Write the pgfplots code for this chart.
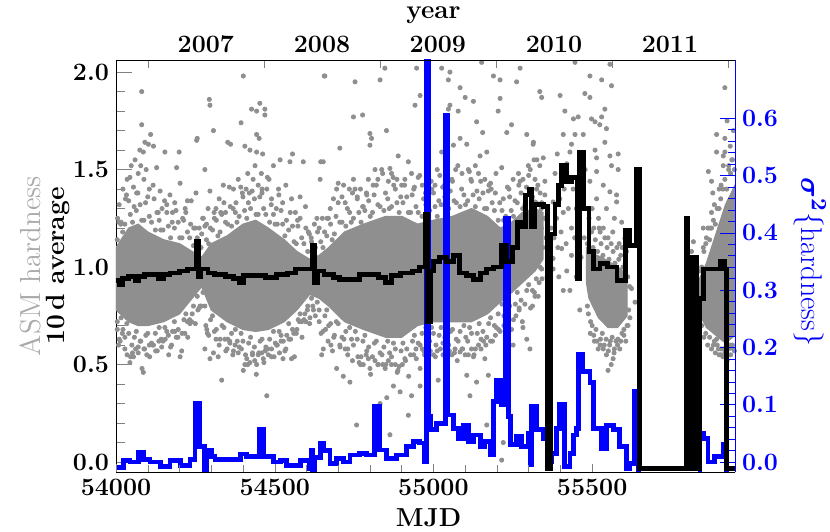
\documentclass[border=0pt]{standalone}
\usepackage{fontspec}
\usepackage{pgfplots}
\pgfplotsset{compat=1.18}
\definecolor{ptgray}{RGB}{143,143,143}
\definecolor{asmgray}{RGB}{170,170,170}
\definecolor{sigblue}{RGB}{0,0,255}

\pgfplotsset{
  hardbase/.style={
    scale only axis, width=309.5pt, height=206pt,
    xmin=54000, xmax=55950,
    tick align=inside,
    scaled x ticks=false, scaled y ticks=false,
    every tick label/.append style={font=\fontsize{12.5}{14}\selectfont\bfseries},
    /pgf/number format/set thousands separator={},
    /pgf/number format/assume math mode=true,
  },
}

\begin{document}
\begin{tikzpicture}
% left axis: ASM hardness points
\begin{axis}[hardbase,
  ymin=-0.051, ymax=2.062,
  axis x line=none, axis y line*=left,
  ytick={0,0.5,1.0,1.5,2.0}, minor y tick num=4,
  major tick length=8pt, minor tick length=4.5pt,
  yticklabel style={/pgf/number format/.cd, fixed, fixed zerofill, precision=1},
  ylabel={{\fontsize{14.5}{15}\selectfont\mdseries\color{asmgray}ASM hardness}\\{\fontsize{13.2}{15}\selectfont\bfseries 10\,d average}},
  every axis y label/.style={at={(rel axis cs:0,0.5)}, anchor=center, xshift=-35.5pt, rotate=90, align=center},
]
\coordinate (bl) at (rel axis cs:0,0);
\coordinate (tr) at (rel axis cs:1,1);
% dense cores
\addplot[fill=ptgray, draw=ptgray, line width=0.6pt] coordinates {
 (54000,1.10) (54040,1.20) (54070,1.22) (54100,1.18) (54150,1.14) (54200,1.12) (54240,1.08) (54270,1.05)
 (54300,1.12) (54350,1.16) (54400,1.22) (54440,1.24) (54480,1.20) (54530,1.14) (54570,1.08) (54610,1.04)
 (54640,1.06) (54670,1.10) (54720,1.18) (54780,1.22) (54850,1.26) (54900,1.26) (54950,1.22) (55000,1.24)
 (55060,1.26) (55120,1.30) (55170,1.26) (55210,1.20) (55240,1.22) (55280,1.28) (55320,1.30) (55345,1.28)
 (55345,1.04) (55320,0.98) (55280,0.92) (55240,0.86) (55210,0.82) (55170,0.76) (55120,0.72) (55060,0.72)
 (55000,0.72) (54950,0.70) (54900,0.64) (54850,0.64) (54780,0.68) (54720,0.72) (54670,0.80) (54640,0.84)
 (54610,0.86) (54570,0.78) (54530,0.72) (54480,0.68) (54440,0.67) (54400,0.68) (54350,0.72) (54300,0.78)
 (54270,0.90) (54240,0.84) (54200,0.76) (54150,0.72) (54100,0.70) (54070,0.70) (54040,0.72) (54000,0.78)} -- cycle;
\addplot[fill=ptgray, draw=ptgray, line width=0.6pt] coordinates {
 (55482,1.10) (55500,1.07) (55530,1.05) (55560,1.02) (55590,0.99) (55610,0.95)
 (55610,0.75) (55580,0.69) (55550,0.69) (55520,0.74) (55490,0.84) (55482,0.92)} -- cycle;
\addplot[fill=ptgray, draw=ptgray, line width=0.6pt] coordinates {
 (55835,0.93) (55860,1.02) (55880,1.12) (55900,1.22) (55920,1.32) (55950,1.42)
 (55950,0.65) (55920,0.61) (55890,0.65) (55860,0.69) (55835,0.77)} -- cycle;
% points along the edges of the dense band
\addplot[only marks, mark=*, mark size=1.05pt, color=ptgray] coordinates {
 (54004,1.14) (54009,1.23) (54004,0.72) (54010,0.63) (54016,1.23) (54021,1.18) (54016,0.74) (54022,0.68)
 (54028,1.22) (54033,1.37) (54028,0.64) (54034,0.71) (54040,1.34) (54045,1.27) (54040,0.66) (54046,0.54)
 (54052,1.23) (54057,1.31) (54052,0.56) (54058,0.64) (54064,1.29) (54069,1.38) (54064,0.67) (54070,0.59)
 (54076,1.32) (54081,1.24) (54076,0.62) (54082,0.48) (54088,1.24) (54093,1.33) (54088,0.58) (54094,0.65)
 (54100,1.36) (54105,1.26) (54100,0.66) (54106,0.54) (54112,1.23) (54117,1.42) (54112,0.61) (54118,0.60)
 (54124,1.19) (54129,1.28) (54124,0.66) (54130,0.57) (54136,1.24) (54141,1.19) (54136,0.69) (54142,0.63)
 (54148,1.19) (54153,1.34) (54148,0.62) (54154,0.69) (54160,1.28) (54165,1.21) (54160,0.67) (54166,0.55)
 (54172,1.15) (54177,1.23) (54172,0.59) (54178,0.67) (54184,1.20) (54189,1.29) (54184,0.72) (54190,0.64)
 (54196,1.23) (54201,1.15) (54196,0.68) (54202,0.54) (54208,1.15) (54213,1.24) (54208,0.66) (54214,0.73)
 (54220,1.28) (54225,1.18) (54220,0.76) (54226,0.64) (54232,1.15) (54237,1.34) (54232,0.73) (54238,0.72)
 (54244,1.11) (54249,1.20) (54244,0.80) (54250,0.71) (54256,1.15) (54261,1.10) (54256,0.85) (54262,0.79)
 (54268,1.10) (54273,1.25) (54268,0.80) (54274,0.87) (54280,1.21) (54285,1.14) (54280,0.80) (54286,0.68)
 (54292,1.12) (54297,1.20) (54292,0.65) (54298,0.73) (54304,1.19) (54309,1.28) (54304,0.75) (54310,0.67)
 (54316,1.24) (54321,1.16) (54316,0.68) (54322,0.54) (54328,1.18) (54333,1.27) (54328,0.63) (54334,0.70)
 (54340,1.33) (54345,1.23) (54340,0.69) (54346,0.57) (54352,1.22) (54357,1.41) (54352,0.63) (54358,0.62)
 (54364,1.21) (54369,1.30) (54364,0.66) (54370,0.57) (54376,1.28) (54381,1.23) (54376,0.68) (54382,0.62)
 (54388,1.26) (54393,1.41) (54388,0.59) (54394,0.66) (54400,1.36) (54405,1.29) (54400,0.62) (54406,0.50)
 (54412,1.25) (54417,1.33) (54412,0.53) (54418,0.61) (54424,1.30) (54429,1.39) (54424,0.64) (54430,0.56)
 (54436,1.35) (54441,1.27) (54436,0.59) (54442,0.45) (54448,1.27) (54453,1.36) (54448,0.55) (54454,0.62)
 (54460,1.40) (54465,1.30) (54460,0.63) (54466,0.51) (54472,1.27) (54477,1.46) (54472,0.59) (54478,0.58)
 (54484,1.23) (54489,1.32) (54484,0.63) (54490,0.54) (54496,1.27) (54501,1.22) (54496,0.67) (54502,0.61)
 (54508,1.22) (54513,1.37) (54508,0.60) (54514,0.67) (54520,1.29) (54525,1.22) (54520,0.65) (54526,0.53)
 (54532,1.16) (54537,1.24) (54532,0.57) (54538,0.65) (54544,1.19) (54549,1.28) (54544,0.71) (54550,0.63)
 (54556,1.21) (54561,1.13) (54556,0.68) (54562,0.54) (54568,1.12) (54573,1.21) (54568,0.66) (54574,0.73)
 (54580,1.25) (54585,1.15) (54580,0.76) (54586,0.64) (54592,1.12) (54597,1.31) (54592,0.73) (54598,0.72)
 (54604,1.08) (54609,1.17) (54604,0.80) (54610,0.71) (54616,1.13) (54621,1.08) (54616,0.84) (54622,0.78)
 (54628,1.10) (54633,1.25) (54628,0.75) (54634,0.82) (54640,1.20) (54645,1.13) (54640,0.78) (54646,0.66)
 (54652,1.10) (54657,1.18) (54652,0.67) (54658,0.75) (54664,1.16) (54669,1.25) (54664,0.78) (54670,0.70)
 (54676,1.22) (54681,1.14) (54676,0.71) (54682,0.57) (54688,1.17) (54693,1.26) (54688,0.65) (54694,0.72)
 (54700,1.33) (54705,1.23) (54700,0.71) (54706,0.59) (54712,1.23) (54717,1.42) (54712,0.64) (54718,0.63)
 (54724,1.21) (54729,1.30) (54724,0.67) (54730,0.58) (54736,1.28) (54741,1.23) (54736,0.69) (54742,0.63)
 (54748,1.25) (54753,1.40) (54748,0.60) (54754,0.67) (54760,1.35) (54765,1.28) (54760,0.63) (54766,0.51)
 (54772,1.23) (54777,1.31) (54772,0.54) (54778,0.62) (54784,1.29) (54789,1.38) (54784,0.65) (54790,0.57)
 (54796,1.34) (54801,1.26) (54796,0.59) (54802,0.45) (54808,1.28) (54813,1.37) (54808,0.54) (54814,0.61)
 (54820,1.42) (54825,1.32) (54820,0.62) (54826,0.50) (54832,1.31) (54837,1.50) (54832,0.56) (54838,0.55)
 (54844,1.29) (54849,1.38) (54844,0.59) (54850,0.50) (54856,1.35) (54861,1.30) (54856,0.62) (54862,0.56)
 (54868,1.31) (54873,1.46) (54868,0.54) (54874,0.61) (54880,1.40) (54885,1.33) (54880,0.58) (54886,0.46)
 (54892,1.28) (54897,1.36) (54892,0.49) (54898,0.57) (54904,1.33) (54909,1.42) (54904,0.61) (54910,0.53)
 (54916,1.36) (54921,1.28) (54916,0.58) (54922,0.44) (54928,1.28) (54933,1.37) (54928,0.55) (54934,0.62)
 (54940,1.41) (54945,1.31) (54940,0.65) (54946,0.53) (54952,1.28) (54957,1.47) (54952,0.61) (54958,0.60)
 (54964,1.26) (54969,1.35) (54964,0.66) (54970,0.57) (54976,1.32) (54981,1.27) (54976,0.69) (54982,0.63)
 (54988,1.29) (54993,1.44) (54988,0.62) (54994,0.69) (55000,1.38) (55005,1.31) (55000,0.66) (55006,0.54)
 (55012,1.26) (55017,1.34) (55012,0.57) (55018,0.65) (55024,1.32) (55029,1.41) (55024,0.69) (55030,0.61)
 (55036,1.36) (55041,1.28) (55036,0.64) (55042,0.50) (55048,1.30) (55053,1.39) (55048,0.60) (55054,0.67)
 (55060,1.44) (55065,1.34) (55060,0.68) (55066,0.56) (55072,1.33) (55077,1.52) (55072,0.63) (55078,0.62)
 (55084,1.31) (55089,1.40) (55084,0.67) (55090,0.58) (55096,1.37) (55101,1.32) (55096,0.70) (55102,0.64)
 (55108,1.34) (55113,1.49) (55108,0.62) (55114,0.69) (55120,1.44) (55125,1.37) (55120,0.66) (55126,0.54)
 (55132,1.31) (55137,1.39) (55132,0.58) (55138,0.66) (55144,1.35) (55149,1.44) (55144,0.71) (55150,0.63)
 (55156,1.38) (55161,1.30) (55156,0.67) (55162,0.53) (55168,1.30) (55173,1.39) (55168,0.64) (55174,0.71)
 (55180,1.43) (55185,1.33) (55180,0.74) (55186,0.62) (55192,1.29) (55197,1.48) (55192,0.70) (55198,0.69)
 (55204,1.24) (55209,1.33) (55204,0.76) (55210,0.67) (55216,1.29) (55221,1.24) (55216,0.81) (55222,0.75)
 (55228,1.26) (55233,1.41) (55228,0.74) (55234,0.81) (55240,1.36) (55245,1.29) (55240,0.80) (55246,0.68)
 (55252,1.26) (55257,1.34) (55252,0.73) (55258,0.81) (55264,1.33) (55269,1.42) (55264,0.87) (55270,0.79)
 (55276,1.38) (55281,1.30) (55276,0.83) (55282,0.69) (55288,1.32) (55293,1.41) (55288,0.81) (55294,0.88)
 (55300,1.47) (55305,1.37) (55300,0.91) (55306,0.79) (55312,1.36) (55317,1.55) (55312,0.88) (55318,0.87)
 (55324,1.33) (55329,1.42) (55324,0.94) (55330,0.85) (55336,1.38) (55341,1.33) (55336,1.00) (55342,0.94)
 (55485,1.12) (55492,1.05) (55498,1.18) (55503,1.10) (55510,1.14) (55517,1.08) (55522,1.20) (55528,1.12)
 (55534,1.06) (55540,1.15) (55547,1.10) (55553,1.04) (55560,1.12) (55566,1.08) (55572,1.02) (55578,1.10)
 (55584,1.04) (55590,1.06) (55597,1.00) (55604,1.02) (55612,0.95) (55618,0.90)
 (55488,0.76) (55494,0.66) (55500,0.70) (55507,0.62) (55512,0.68) (55519,0.58) (55526,0.63) (55532,0.66)
 (55538,0.60) (55544,0.63) (55551,0.57) (55557,0.62) (55563,0.64) (55569,0.56) (55575,0.62) (55581,0.63)
 (55587,0.58) (55594,0.66) (55600,0.68) (55606,0.62) (55613,0.70) (55619,0.74)
 (55838,0.98) (55845,0.90) (55852,1.08) (55858,1.12) (55864,1.00) (55870,1.14) (55876,1.20) (55882,1.24)
 (55888,1.22) (55894,1.30) (55900,1.30) (55906,1.42) (55912,1.40) (55918,1.45) (55924,1.40) (55930,1.52)
 (55936,1.48) (55942,1.55) (55948,1.50)
 (55838,0.72) (55845,0.70) (55852,0.64) (55858,0.66) (55864,0.60) (55870,0.64) (55876,0.58) (55882,0.60)
 (55888,0.56) (55894,0.60) (55900,0.55) (55906,0.58) (55912,0.54) (55918,0.56) (55924,0.53) (55930,0.58)
 (55936,0.55) (55942,0.60) (55948,0.57)
};
% scattered points
\addplot[only marks, mark=*, mark size=1.05pt, color=ptgray] coordinates {
 (54005,1.25) (54010,1.32) (54015,1.22) (54022,1.40) (54030,1.35) (54035,1.45) (54044,1.46) (54048,1.52)
 (54055,1.41) (54060,1.55) (54065,1.38) (54070,1.48) (54075,1.60) (54078,1.52) (54081,1.90) (54081,1.73)
 (54086,1.59) (54088,1.45) (54091,1.64) (54095,1.50) (54102,1.63) (54105,1.40) (54109,1.68) (54118,1.62)
 (54004,0.68) (54008,0.60) (54013,0.62) (54020,0.66) (54028,0.58) (54035,0.55) (54044,0.51) (54050,0.60)
 (54055,0.54) (54062,0.58) (54070,0.56) (54078,0.62) (54086,0.46) (54090,0.58) (54097,0.55) (54105,0.60)
 (54128,1.51) (54139,1.39) (54145,1.30) (54154,1.59) (54160,1.32) (54170,1.37) (54178,1.28) (54185,1.33)
 (54191,1.51) (54199,1.59) (54202,1.43) (54210,1.25) (54218,1.30) (54225,1.34) (54235,1.22) (54245,1.20)
 (54120,1.35) (54133,1.28)
 (54115,0.60) (54125,0.57) (54135,0.62) (54144,0.59) (54155,0.63) (54165,0.65) (54175,0.60) (54185,0.67)
 (54195,0.64) (54207,0.57) (54217,0.66) (54225,0.72) (54233,0.71) (54240,0.76)
 (54252,1.38) (54254,1.65) (54256,1.66) (54262,1.20) (54270,1.17) (54280,1.50) (54275,1.25) (54285,1.22)
 (54290,1.30) (54296,1.39) (54294,1.86) (54296,1.83) (54280,0.58) (54283,0.70) (54288,0.66) (54296,0.53)
 (54265,0.80) (54258,0.78)
 (54307,1.70) (54315,1.30) (54325,1.35) (54338,1.42) (54345,1.28) (54352,1.64) (54361,1.63) (54370,1.40)
 (54378,1.33) (54385,1.45) (54394,1.74) (54398,1.38) (54310,1.25) (54330,1.28) (54360,1.31)
 (54307,0.56) (54315,0.63) (54325,0.60) (54333,0.42) (54343,0.63) (54350,0.58) (54359,0.61) (54368,0.55)
 (54375,0.60) (54385,0.56) (54395,0.58) (54401,0.47)
 (54401,1.98) (54406,1.62) (54410,1.40) (54415,1.48) (54422,1.60) (54427,1.81) (54432,1.45) (54438,1.52)
 (54443,1.80) (54443,1.68) (54443,1.59) (54448,1.42) (54451,1.66) (54453,1.84) (54458,1.48) (54462,1.58)
 (54469,1.81) (54469,1.78) (54475,1.40) (54482,1.45) (54490,1.35) (54496,1.52) (54420,1.38) (54460,1.38)
 (54408,0.55) (54415,0.50) (54422,0.51) (54430,0.55) (54437,0.52) (54443,0.50) (54450,0.56) (54459,0.56)
 (54464,0.53) (54470,0.57) (54475,0.34) (54480,0.55) (54490,0.58) (54498,0.54)
 (54505,1.30) (54512,1.40) (54517,1.55) (54525,1.33) (54535,1.42) (54548,1.54) (54553,1.35) (54556,1.58)
 (54565,1.28) (54572,1.24) (54580,1.36) (54590,1.54) (54598,1.20) (54606,1.18) (54615,1.15) (54625,1.22)
 (54635,1.18) (54643,1.45) (54645,1.54) (54656,1.98) (54650,1.25)
 (54506,0.60) (54515,0.56) (54520,0.62) (54527,0.62) (54535,0.58) (54545,0.63) (54553,0.53) (54560,0.66)
 (54570,0.68) (54578,0.72) (54585,0.72) (54595,0.76) (54603,0.78) (54611,0.74) (54620,0.80) (54640,0.72)
 (54648,0.55) (54653,0.58)
 (54653,1.54) (54658,1.98) (54665,1.25) (54675,1.30) (54685,1.35) (54695,1.40) (54700,1.43) (54705,1.61)
 (54712,1.36) (54722,1.33) (54735,1.40) (54745,1.38) (54748,1.45) (54748,1.77) (54753,1.95) (54760,1.36)
 (54770,1.40) (54777,1.78) (54779,1.31) (54790,1.37) (54795,1.45) (54800,1.685) (54800,1.625) (54805,1.66)
 (54660,0.68) (54668,0.62) (54677,0.60) (54686,0.64) (54695,0.48) (54705,0.60) (54716,0.44) (54722,0.58)
 (54730,0.55) (54737,0.41) (54745,0.52) (54758,0.19) (54762,0.54) (54770,0.50) (54779,0.50) (54788,0.55)
 (54795,0.53) (54800,0.48)
 (54810,1.42) (54816,1.50) (54825,1.45) (54832,1.96) (54840,1.48) (54847,2.02) (54852,1.70) (54858,1.44)
 (54863,1.506) (54868,1.48) (54875,1.42) (54885,1.45) (54889,1.57) (54900,1.42) (54910,1.45) (54921,1.54)
 (54931,1.48) (54938,1.40) (54942,1.83) (54947,2.02) (54952,1.46)
 (54816,0.52) (54825,0.50) (54832,0.30) (54840,0.50) (54848,0.48) (54853,0.33) (54858,0.52) (54863,0.14)
 (54868,0.50) (54874,0.39) (54880,0.50) (54888,0.47) (54895,0.36) (54902,0.50) (54912,0.52) (54921,0.24)
 (54931,0.34) (54938,0.55) (54945,0.58) (54958,0.39) (54958,0.48)
 (54958,1.88) (54965,1.42) (54975,1.38) (54985,1.45) (54995,1.40) (55005,1.42) (55012,1.50) (55020,1.47)
 (55026,1.59) (55026,2.02) (55035,1.42) (55041,1.50) (55047,1.96) (55047,1.81) (55052,2.00) (55052,1.83)
 (55058,1.45) (55063,1.625) (55070,1.50) (55078,1.80) (55084,1.92) (55084,1.66) (55090,1.48) (55100,1.87)
 (55105,1.63)
 (54965,0.58) (54972,0.55) (54980,0.60) (54990,0.57) (55000,0.55) (55008,0.60) (55015,0.42) (55022,0.58)
 (55030,0.55) (55041,0.39) (55041,0.29) (55050,0.57) (55058,0.55) (55068,0.58) (55075,0.52) (55084,0.565)
 (55092,0.58) (55100,0.55)
 (55110,1.50) (55118,1.45) (55126,1.85) (55132,1.52) (55136,1.745) (55142,1.48) (55147,1.57) (55152,2.05)
 (55155,1.69) (55162,1.45) (55168,1.59) (55175,1.42) (55182,1.40) (55189,1.98) (55195,1.38) (55204,1.80)
 (55210,1.865) (55210,1.96) (55215,1.51) (55220,1.35) (55231,1.69) (55238,1.40) (55246,1.73) (55251,1.45)
 (55262,1.95) (55268,1.48) (55273,2.02) (55273,1.44) (55282,1.45) (55294,1.68) (55299,1.52) (55305,1.50)
 (55315,1.64) (55320,1.45) (55326,1.55)
 (55105,0.445) (55105,0.14) (55110,0.55) (55115,0.34) (55120,0.58) (55128,0.55) (55136,0.41) (55142,0.60)
 (55150,0.58) (55158,0.62) (55168,0.19) (55165,0.60) (55173,0.445) (55180,0.62) (55189,0.28) (55195,0.65)
 (55205,0.68) (55215,0.01) (55220,0.10) (55222,0.70) (55232,0.72) (55242,0.68) (55251,0.60) (55260,0.75)
 (55270,0.78) (55280,0.72) (55294,0.63) (55304,0.58) (55312,0.80) (55320,0.85)
 (55335,1.90) (55341,1.87) (55335,1.52) (55346,1.56) (55351,1.44) (55351,1.37) (55320,1.334) (55314,1.63)
 (55377,1.334) (55383,1.48) (55399,1.88) (55409,1.28) (55409,1.68) (55414,1.80) (55420,1.53) (55430,1.59)
 (55435,1.63) (55435,1.20) (55435,1.06) (55404,1.095) (55377,1.044) (55341,0.99) (55377,0.99) (55314,1.06)
 (55441,1.76) (55446,1.68) (55446,2.05) (55456,1.77) (55461,0.78) (55409,0.88) (55430,0.88) (55472,1.68)
 (55477,1.89) (55340,1.20) (55345,1.10) (55350,1.25) (55355,1.15) (55360,1.30) (55365,1.05) (55370,1.20)
 (55380,1.15) (55388,1.25) (55392,1.10) (55398,1.35) (55402,1.18) (55412,1.40) (55418,1.12) (55425,1.30)
 (55440,1.40) (55445,1.15) (55450,1.30) (55455,1.45) (55460,1.25) (55465,1.05) (55470,1.35) (55475,1.15)
 (55478,1.50) (55340,1.30) (55358,0.95) (55395,0.95) (55420,0.98) (55450,0.95) (55325,1.40) (55333,0.92)
 (55390,1.58) (55465,1.55)
 (55493,1.98) (55493,1.87) (55498,1.76) (55509,1.745) (55509,1.60) (55514,1.56) (55514,1.49) (55514,1.35)
 (55493,1.44) (55524,1.73) (55530,1.96) (55530,1.77) (55535,1.42) (55540,1.81) (55540,1.64) (55545,1.71)
 (55545,1.30) (55556,2.04) (55556,1.57) (55556,1.386) (55561,1.93) (55561,1.52) (55577,1.37) (55577,1.334)
 (55582,1.58) (55582,1.50) (55593,1.23) (55603,1.147) (55608,1.08) (55490,1.25) (55500,1.30) (55505,1.20)
 (55520,1.25) (55525,1.18) (55535,1.20) (55550,1.15) (55565,1.18) (55570,1.25) (55585,1.12) (55595,1.10)
 (55485,0.80) (55495,0.72) (55505,0.65) (55515,0.62) (55525,0.60) (55535,0.58) (55545,0.55) (55555,0.60)
 (55566,0.53) (55570,0.58) (55580,0.60) (55590,0.62) (55600,0.65) (55603,0.787) (55588,0.89) (55610,0.70)
 (55624,0.89) (55635,0.82) (55615,0.78) (55550,0.47) (55560,0.50)
 (55813,1.08) (55819,1.13) (55850,1.20) (55850,1.10) (55855,0.91) (55860,0.79) (55866,1.49) (55871,1.20)
 (55871,0.82) (55876,1.44) (55876,1.28) (55876,0.72) (55892,1.68) (55892,1.59) (55892,0.63) (55913,1.57)
 (55913,1.52) (55913,0.58) (55918,1.59) (55918,1.92) (55918,1.66) (55925,1.75) (55930,1.50) (55935,1.62)
 (55940,1.55) (55945,1.70) (55900,1.40) (55905,1.35) (55885,1.32) (55880,1.38) (55865,1.20) (55860,1.15)
 (55845,1.00) (55840,0.85) (55905,0.55) (55925,0.52) (55935,0.60) (55945,0.58) (55898,0.58) (55885,0.62)
};
\end{axis}

% right axis: sigma^2 of hardness
\begin{axis}[hardbase,
  ymin=-0.0175, ymax=0.7015,
  axis x line=none, axis y line*=right,
  ytick={0,0.1,...,0.6}, minor y tick num=4,
  major tick length=7.5pt, minor tick length=3.5pt,
  y axis line style={sigblue}, every tick/.append style={sigblue},
  yticklabel style={sigblue, /pgf/number format/.cd, fixed, fixed zerofill, precision=1},
  ylabel={{\boldmath$\sigma^{2}$}\{hardness\}},
  every axis y label/.style={at={(rel axis cs:1,0.51)}, anchor=center, xshift=37.5pt, rotate=-90,
    sigblue, font=\fontsize{15}{17}\selectfont},
]
\addplot[const plot, sigblue, line width=2.4pt, line join=miter] coordinates {
 (54000,-0.01) (54023,0.003) (54044,0.0) (54070,0.016) (54086,0.004) (54107,0.0) (54139,-0.008) (54170,0.002)
 (54202,-0.006) (54233,0.005) (54249,0.103) (54262,0.027) (54278,-0.015) (54284,0.02) (54300,0.01) (54312,0.005)
 (54391,0.014) (54412,0.01) (54452,0.056) (54466,0.01) (54496,0.0) (54517,0.003) (54538,-0.006) (54580,0.002)
 (54608,-0.012) (54614,0.02) (54620,-0.015) (54626,0.008) (54643,0.033) (54653,0.02) (54674,-0.002) (54695,0.006)
 (54716,0.0) (54737,0.012) (54768,0.015) (54790,0.012) (54814,0.097) (54830,0.021) (54853,0.006) (54884,0.012)
 (54915,0.027) (54936,0.036) (54957,0.033) (54970,0.0) (54977,0.75) (54986,0.079) (54992,0.056) (55010,0.067)
 (55038,0.605) (55046,0.082) (55062,0.058) (55078,0.041) (55094,0.064) (55110,0.036) (55126,0.047) (55147,0.027)
 (55162,0.036) (55178,0.012) (55188,0.105) (55199,0.143) (55215,0.1) (55227,0.425) (55237,0.079) (55242,0.03)
 (55261,0.044) (55277,0.027) (55298,0.05) (55304,-0.005) (55309,0.097) (55325,0.056) (55346,0.04) (55360,0.0)
 (55372,0.015) (55388,0.059) (55398,0.1) (55414,-0.008) (55430,0.015) (55440,0.047) (55450,0.059) (55456,0.187)
 (55471,0.158) (55493,0.138) (55505,0.059) (55514,0.059) (55530,0.024) (55545,0.064) (55566,0.056) (55587,0.027)
 (55608,-0.011) (55618,-0.002) (55634,0.123) (55645,-0.03) (55840,0.05) (55850,0.041) (55865,0.0) (55886,0.009)
 (55912,0.03) (55923,-0.03) (55950,-0.03)};
\end{axis}

% top axis (years) and the 10 d average
\begin{axis}[hardbase,
  ymin=-0.051, ymax=2.062,
  axis x line*=top, axis y line=none,
  xtick={54101,54466,54832,55197,55562,55927},
  xticklabels={,,,,,},
  major tick length=4pt,
  extra x ticks={54283,54649,55014,55380,55745},
  extra x tick labels={2007,2008,2009,2010,2011},
  extra x tick style={major tick length=0pt},
  xlabel={year},
  every axis x label/.style={at={(rel axis cs:0.513,1)}, anchor=center, yshift=22.5pt,
    font=\fontsize{13}{15}\selectfont\bfseries},
]
\addplot[const plot, black, line width=2.4pt, line join=miter] coordinates {
 (54000,0.93) (54012,0.91) (54020,0.94) (54040,0.95) (54062,0.93) (54072,0.95) (54090,0.96) (54135,0.94)
 (54150,0.96) (54170,0.97) (54200,0.98) (54225,0.99) (54252,1.13) (54260,0.95) (54268,0.99) (54290,0.97)
 (54310,0.96) (54345,0.95) (54370,0.94) (54390,0.92) (54402,0.955) (54470,0.945) (54505,0.96) (54540,0.97)
 (54565,0.99) (54618,1.11) (54626,0.92) (54634,0.98) (54655,0.96) (54685,0.945) (54705,0.935) (54768,0.96)
 (54828,0.945) (54850,0.92) (54868,0.955) (54895,0.97) (54935,0.98) (54955,1.0) (54975,1.27) (54982,0.72)
 (54990,0.98) (55000,1.03) (55020,1.05) (55042,1.03) (55062,1.06) (55082,0.97) (55105,0.955) (55125,0.935)
 (55147,0.97) (55168,0.99) (55190,1.0) (55215,1.11) (55230,1.03) (55250,1.10) (55265,1.23) (55278,1.21)
 (55290,1.37) (55302,1.40) (55310,1.21) (55320,1.32) (55346,1.31) (55360,-0.035) (55370,1.17) (55383,1.32)
 (55394,1.42) (55404,1.52) (55420,1.44) (55435,1.46) (55452,0.94) (55460,1.59) (55472,1.30) (55490,1.08)
 (55505,0.99) (55525,1.02) (55548,1.00) (55578,0.93) (55605,1.19) (55618,1.11) (55638,1.50) (55648,-0.035)
 (55797,1.25) (55801,-0.035) (55804,1.05) (55808,-0.035) (55811,1.05) (55815,-0.035) (55818,1.05) (55822,-0.035)
 (55825,1.05) (55829,-0.035) (55840,0.84) (55850,0.99) (55903,1.03) (55918,0.99) (55924,-0.035) (55950,-0.035)};
\end{axis}

% bottom axis (MJD)
\begin{axis}[hardbase,
  ymin=-0.051, ymax=2.062,
  axis x line*=bottom, axis y line=none,
  xtick={54000,54500,55000,55500}, minor x tick num=4,
  major tick length=4pt, minor tick length=3.5pt,
  xlabel={MJD},
  every axis x label/.style={at={(rel axis cs:0.505,0)}, anchor=center, yshift=-23pt,
    font=\fontsize{13}{15}\selectfont\bfseries},
]
\addplot[draw=none] coordinates {(54000,0)};
\end{axis}

\pgfresetboundingbox
\path ([shift={(-58pt,-29.5pt)}]bl) rectangle ([shift={(47.5pt,30pt)}]tr);
\end{tikzpicture}
\end{document}
